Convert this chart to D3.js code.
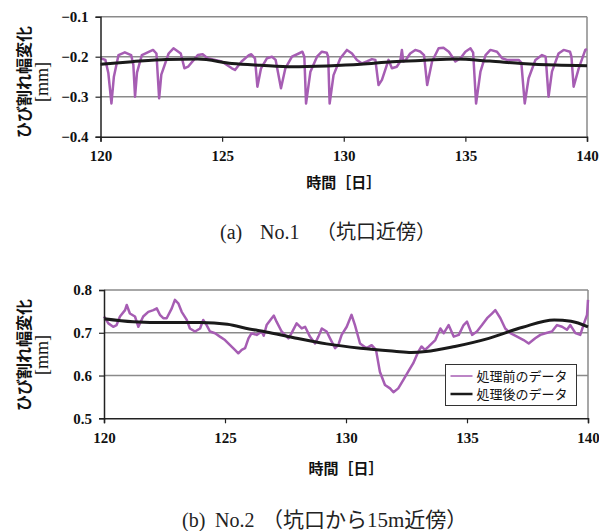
<!DOCTYPE html>
<html>
<head>
<meta charset="utf-8">
<script src="https://cdn.jsdelivr.net/npm/d3@7"></script>
<style>
  body { margin: 0; background: #fff; }
  svg { display: block; }
</style>
</head>
<body>
<svg id="chart" width="599" height="531"></svg>
<script>
const WIDTH = 599
const HEIGHT = 531

const xTicks = [120, 125, 130, 135, 140]

// (a) No.1 raw [day, mm]
const rawA = [
    [120.0, -0.204], [120.2, -0.208], [120.32, -0.24], [120.45, -0.317], [120.55, -0.25],
    [120.74, -0.196], [121.0, -0.189], [121.26, -0.196], [121.35, -0.22], [121.42, -0.30],
    [121.5, -0.24], [121.7, -0.196], [122.16, -0.183], [122.3, -0.192], [122.41, -0.304],
    [122.5, -0.245], [122.8, -0.192], [123.0, -0.179], [123.3, -0.192], [123.45, -0.229],
    [123.6, -0.225], [124.0, -0.196], [124.2, -0.194], [124.4, -0.204], [124.98, -0.212],
    [125.4, -0.229], [125.53, -0.233], [125.8, -0.212], [126.1, -0.196], [126.2, -0.194],
    [126.35, -0.204], [126.45, -0.275], [126.6, -0.229], [126.84, -0.204], [127.05, -0.2],
    [127.2, -0.208], [127.42, -0.279], [127.6, -0.229], [127.87, -0.2], [128.15, -0.192],
    [128.3, -0.1875], [128.38, -0.2], [128.45, -0.317], [128.63, -0.2375], [128.9, -0.2],
    [129.1, -0.1875], [129.3, -0.19], [129.36, -0.2], [129.42, -0.317], [129.58, -0.246],
    [129.86, -0.204], [130.13, -0.183], [130.34, -0.192], [130.54, -0.208], [130.75, -0.217],
    [130.95, -0.212], [131.16, -0.206], [131.3, -0.208], [131.43, -0.271], [131.57, -0.258],
    [131.77, -0.221], [131.84, -0.208], [131.98, -0.229], [132.18, -0.225], [132.32, -0.212],
    [132.39, -0.183], [132.45, -0.212], [132.53, -0.21], [132.73, -0.192], [132.94, -0.183],
    [133.14, -0.187], [133.3, -0.196], [133.43, -0.271], [133.63, -0.212], [133.9, -0.179],
    [134.1, -0.1775], [134.32, -0.1875], [134.59, -0.212], [134.8, -0.204], [135.0, -0.1875],
    [135.21, -0.179], [135.32, -0.19], [135.44, -0.317], [135.62, -0.2375], [135.83, -0.196],
    [136.03, -0.183], [136.3, -0.1875], [136.51, -0.204], [136.71, -0.208], [137.19, -0.208],
    [137.3, -0.215], [137.44, -0.317], [137.6, -0.254], [137.88, -0.208], [138.15, -0.196],
    [138.3, -0.2], [138.42, -0.30], [138.56, -0.2375], [138.83, -0.192], [139.04, -0.183],
    [139.3, -0.1875], [139.36, -0.2], [139.45, -0.275], [139.66, -0.229], [139.93, -0.183],
    [140.0, -0.181]
]

// (a) No.1 smoothed
const smoothA = [
    [120, -0.219], [121.3, -0.2125], [122.7, -0.207], [124.0, -0.206], [125.4, -0.217],
    [126.6, -0.2215], [127.9, -0.225], [129.3, -0.223], [130.7, -0.219], [132.0, -0.2125],
    [133.3, -0.209], [134.6, -0.206], [136.0, -0.211], [137.3, -0.217], [138.7, -0.221],
    [140, -0.2225]
]

// (b) No.2 raw
const rawB = [
    [120.0, 0.738], [120.18, 0.722], [120.38, 0.714], [120.52, 0.718], [120.66, 0.738],
    [120.87, 0.753], [120.94, 0.765], [121.07, 0.745], [121.28, 0.738], [121.42, 0.714],
    [121.62, 0.738], [121.83, 0.749], [122.04, 0.753], [122.18, 0.757], [122.31, 0.742],
    [122.45, 0.734], [122.59, 0.734], [122.8, 0.757], [122.93, 0.777], [123.07, 0.769],
    [123.21, 0.749], [123.42, 0.73], [123.55, 0.71], [123.76, 0.703], [123.97, 0.71],
    [124.1, 0.73], [124.24, 0.718], [124.38, 0.703], [124.59, 0.699], [124.79, 0.691],
    [125.0, 0.683], [125.21, 0.671], [125.41, 0.66], [125.55, 0.652], [125.69, 0.66],
    [125.83, 0.664], [125.97, 0.687], [126.1, 0.699], [126.31, 0.695], [126.52, 0.703],
    [126.6, 0.693], [126.72, 0.718], [126.93, 0.734], [127.02, 0.74], [127.13, 0.726],
    [127.34, 0.703], [127.62, 0.687], [127.75, 0.699], [127.96, 0.722], [128.17, 0.71],
    [128.31, 0.714], [128.51, 0.691], [128.72, 0.675], [128.86, 0.691], [129.0, 0.71],
    [129.2, 0.703], [129.34, 0.687], [129.55, 0.664], [129.68, 0.671], [129.82, 0.695],
    [130.03, 0.714], [130.23, 0.742], [130.37, 0.718], [130.58, 0.675], [130.85, 0.664],
    [131.06, 0.671], [131.24, 0.66], [131.4, 0.609], [131.61, 0.578], [131.82, 0.57],
    [131.96, 0.561], [132.16, 0.57], [132.37, 0.59], [132.57, 0.609], [132.78, 0.629],
    [132.99, 0.656], [133.12, 0.668], [133.26, 0.66], [133.42, 0.668], [133.69, 0.683],
    [133.9, 0.71], [134.04, 0.699], [134.24, 0.718], [134.45, 0.691], [134.66, 0.695],
    [134.86, 0.718], [135.0, 0.726], [135.21, 0.695], [135.41, 0.703], [135.62, 0.718],
    [135.83, 0.734], [136.03, 0.745], [136.17, 0.753], [136.38, 0.734], [136.58, 0.71],
    [136.79, 0.699], [137.07, 0.691], [137.34, 0.683], [137.55, 0.675], [137.82, 0.687],
    [138.03, 0.695], [138.24, 0.699], [138.51, 0.703], [138.72, 0.718], [138.93, 0.714],
    [139.13, 0.707], [139.27, 0.718], [139.48, 0.699], [139.68, 0.695], [139.86, 0.726],
    [139.96, 0.742], [140.0, 0.777]
]

// (b) No.2 smoothed
const smoothB = [
    [120, 0.733], [121.2, 0.726], [122.6, 0.724], [124.0, 0.724], [125.1, 0.72],
    [126.0, 0.709], [126.7, 0.702], [127.8, 0.689], [129.2, 0.674], [130.6, 0.664],
    [132.0, 0.657], [132.7, 0.654], [133.3, 0.656], [134.5, 0.668], [135.9, 0.687],
    [137.3, 0.713], [138.6, 0.73], [139.3, 0.727], [140, 0.714]
]

const yTicksA = [-0.4, -0.3, -0.2, -0.1]
const yTicksB = [0.5, 0.6, 0.7, 0.8]

const legendLabels = ['処理前のデータ', '処理後のデータ']
const captionA = ['(a)', 'No.1', '（坑口近傍）']
const captionB = ['(b)', 'No.2', '（坑口から15m近傍）']

const PURPLE = '#a65db3'
const GRID = '#8a8a8a'

const svg = d3.select('#chart')
    .attr('width', WIDTH)
    .attr('height', HEIGHT)

svg.append('rect').attr('width', WIDTH).attr('height', HEIGHT).attr('fill', '#fff')

const drawPanel = cfg => {
    const x = d3.scaleLinear().domain([120, 140]).range([cfg.left, cfg.right])
    const y = d3.scaleLinear().domain(cfg.yDomain).range([cfg.bottom, cfg.top])
    const g = svg.append('g')

    // gridlines
    g.selectAll('line.grid')
        .data(cfg.yTicks.slice(1))
        .join('line')
        .attr('class', 'grid')
        .attr('x1', cfg.left)
        .attr('x2', cfg.right)
        .attr('y1', d => y(d))
        .attr('y2', d => y(d))
        .attr('stroke', GRID)
        .attr('stroke-width', 1.5)

    // right border
    g.append('line')
        .attr('x1', cfg.right).attr('x2', cfg.right)
        .attr('y1', cfg.top).attr('y2', cfg.bottom)
        .attr('stroke', GRID)
        .attr('stroke-width', 1.5)

    const line = d3.line().x(d => x(d[0])).y(d => y(d[1]))

    g.append('path')
        .datum(cfg.raw)
        .attr('d', line)
        .attr('fill', 'none')
        .attr('stroke', PURPLE)
        .attr('stroke-width', 2.5)
        .attr('stroke-linejoin', 'round')

    g.append('path')
        .datum(cfg.smooth)
        .attr('d', line.curve(d3.curveMonotoneX))
        .attr('fill', 'none')
        .attr('stroke', '#1a1a1a')
        .attr('stroke-width', 3)

    // axes
    const xAxis = g.append('g')
        .attr('transform', `translate(0,${cfg.bottom})`)
        .call(d3.axisBottom(x).tickValues(xTicks).tickSize(5).tickPadding(9))
    const yAxis = g.append('g')
        .attr('transform', `translate(${cfg.left},0)`)
        .call(d3.axisLeft(y).tickValues(cfg.yTicks).tickSize(5).tickPadding(7)
            .tickFormat(d => d3.format('.1f')(d).replace('-', '−')))

    ;[xAxis, yAxis].forEach(a => {
        a.select('.domain').attr('stroke', '#222').attr('stroke-width', 1.5)
        a.selectAll('.tick line').attr('stroke', '#222').attr('stroke-width', 1.2)
        a.selectAll('text')
            .attr('fill', '#111')
            .style('font-family', '"Liberation Serif", serif')
            .style('font-weight', 'bold')
            .style('font-size', '15px')
    })

    // y label
    const midY = cfg.labelY
    svg.append('text')
        .attr('transform', `translate(30,${midY}) rotate(-90)`)
        .attr('text-anchor', 'middle')
        .style('font-family', '"Noto Sans CJK JP", sans-serif')
        .style('font-weight', 'bold')
        .style('font-size', '16px')
        .attr('fill', '#111')
        .text('ひび割れ幅変化')
    svg.append('text')
        .attr('transform', `translate(48,${midY}) rotate(-90)`)
        .attr('text-anchor', 'middle')
        .style('font-family', '"Liberation Serif", serif')
        .style('font-size', '18px')
        .attr('fill', '#111')
        .text('[mm]')

    // x label
    svg.append('text')
        .attr('x', (cfg.left + cfg.right) / 2)
        .attr('y', cfg.titleY)
        .attr('text-anchor', 'middle')
        .style('font-family', '"Noto Sans CJK JP", sans-serif')
        .style('font-weight', 'bold')
        .style('font-size', '15px')
        .attr('fill', '#111')
        .text('時間［日］')

    // caption, three parts placed along the line
    svg.append('text')
        .attr('y', cfg.captionY)
        .style('font-family', '"Liberation Serif", "Noto Sans CJK JP", serif')
        .style('font-size', '20px')
        .attr('fill', '#222')
        .selectAll('tspan')
        .data(cfg.caption)
        .join('tspan')
        .attr('x', (d, i) => cfg.captionX[i])
        .style('font-size', (d, i) => i === 2 ? cfg.cjkSize : '20px')
        .text(d => d)

    return { x, y }
}

drawPanel({
    left: 100.5, right: 587, top: 16.7, bottom: 136.7,
    yDomain: [-0.4, -0.1], yTicks: yTicksA,
    raw: rawA, smooth: smoothA,
    labelY: 82, titleY: 188,
    captionX: [220, 260, 316], cjkSize: '20px', captionY: 239, caption: captionA
})

drawPanel({
    left: 104, right: 588, top: 290, bottom: 418.3,
    yDomain: [0.5, 0.8], yTicks: yTicksB,
    raw: rawB, smooth: smoothB,
    labelY: 355, titleY: 474,
    captionX: [182, 215, 262], cjkSize: '21px', captionY: 527, caption: captionB
})

// legend
const legend = svg.append('g').attr('transform', 'translate(445.5,364.5)')
legend.append('rect')
    .attr('width', 131)
    .attr('height', 41)
    .attr('fill', '#fff')
    .attr('stroke', '#333')
    .attr('stroke-width', 1)

legend.selectAll('g.item')
    .data(legendLabels)
    .join('g')
    .attr('class', 'item')
    .attr('transform', (d, i) => `translate(0,${11.5 + i * 18})`)
    .each(function (d, i) {
        const it = d3.select(this)
        it.append('line')
            .attr('x1', 5).attr('x2', 27)
            .attr('stroke', i === 0 ? PURPLE : '#1a1a1a')
            .attr('stroke-width', i === 0 ? 1.5 : 2.5)
        it.append('text')
            .attr('x', 31)
            .attr('y', 4.5)
            .style('font-family', '"Noto Sans CJK JP", sans-serif')
            .style('font-size', '13px')
            .attr('fill', '#111')
            .text(d)
    })
</script>
</body>
</html>
